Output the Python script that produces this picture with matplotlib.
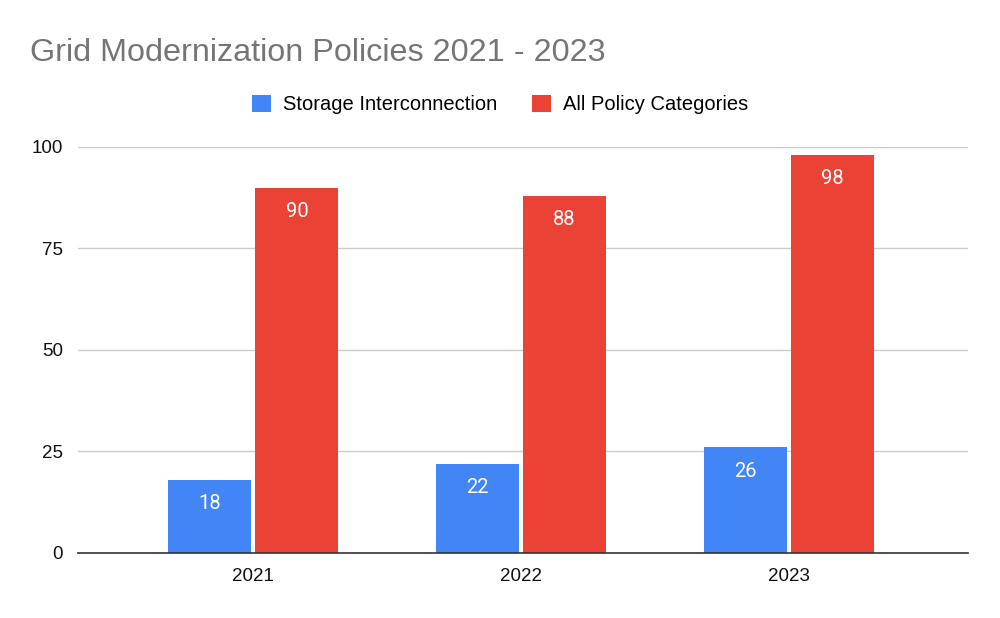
import matplotlib.pyplot as plt
import numpy as np

plt.rcParams['font.family'] = ['Liberation Sans', 'DejaVu Sans']

years = ['2021', '2022', '2023']
storage = [18, 22, 26]
all_policies = [90, 88, 98]
series_names = ['Storage Interconnection', 'All Policy Categories']
yticks = [0, 25, 50, 75, 100]

blue = '#4285F4'
red = '#EA4335'

fig = plt.figure(figsize=(10, 6.18), dpi=100)
ax = fig.add_axes([0.078, 0.1052, 0.89, 0.657])

x = np.arange(len(years))
w = 0.31
off = 0.163
b1 = ax.bar(x - off, storage, w, color=blue, label=series_names[0])
b2 = ax.bar(x + off, all_policies, w, color=red, label=series_names[1])

for bars in (b1, b2):
    for rect in bars:
        h = rect.get_height()
        ax.annotate(str(h), (rect.get_x() + rect.get_width() / 2, h),
                    xytext=(0, -17), textcoords='offset points',
                    ha='center', va='center', color='white', fontsize=14.5,
                    family=['Roboto', 'DejaVu Sans'])

ax.set_xlim(-0.655, 2.67)
ax.set_ylim(0, 100)
ax.set_xticks(x)
ax.set_xticklabels(years)
ax.set_yticks(yticks)
ax.tick_params(axis='both', length=0, labelsize=13.5, colors='#111111')
ax.tick_params(axis='y', pad=11)
ax.tick_params(axis='x', pad=11)
ax.grid(axis='y', color='#cccccc', linewidth=1)
ax.set_axisbelow(True)
for s in ['top', 'right', 'left']:
    ax.spines[s].set_visible(False)
ax.spines['bottom'].set_color('#333333')
ax.spines['bottom'].set_linewidth(1.2)
ax.spines['bottom'].set_zorder(3)

fig.text(0.03, 0.915, 'Grid Modernization Policies 2021 - 2023',
         fontsize=23.3, color='#757575', ha='left', va='center')

fig.legend(handles=[b1, b2], loc='center', bbox_to_anchor=(0.5, 0.831),
           ncol=2, frameon=False, fontsize=14.5, handlelength=0.95,
           handleheight=0.95, columnspacing=1.7, handletextpad=0.6)

fig.savefig('out.png', dpi=100)
